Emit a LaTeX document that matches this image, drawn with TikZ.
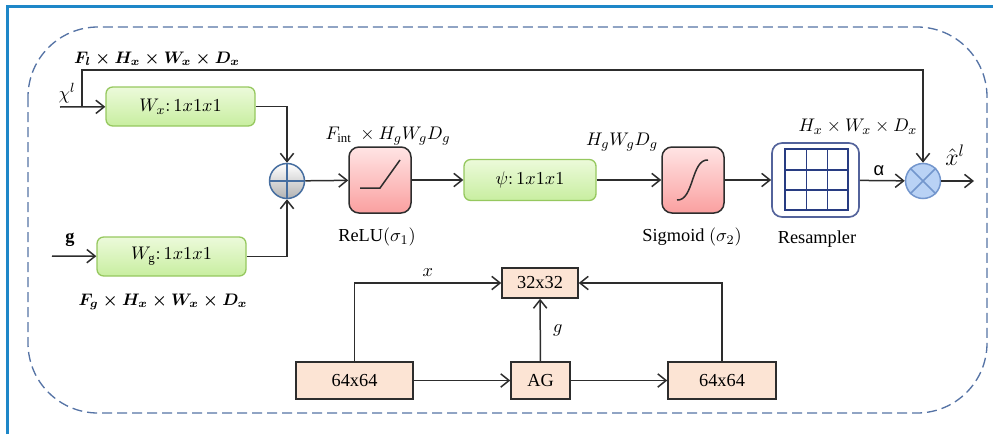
\documentclass[tikz,border=0pt]{standalone}
\usepackage{amsmath}
\usepackage{fontspec}
\setmainfont{Liberation Serif}
\newfontfamily\alphafont{Liberation Sans}
\usetikzlibrary{arrows.meta}

\definecolor{framblue}{RGB}{30,135,200}
\definecolor{dashblue}{RGB}{85,115,165}
\definecolor{linegray}{RGB}{45,45,45}
\definecolor{greentop}{RGB}{236,250,218}
\definecolor{greenbot}{RGB}{200,238,160}
\definecolor{greenline}{RGB}{150,200,95}
\definecolor{pinktop}{RGB}{255,228,228}
\definecolor{pinkbot}{RGB}{250,160,160}
\definecolor{peach}{RGB}{252,228,212}
\definecolor{sumblue}{RGB}{70,110,160}
\definecolor{mulfill}{RGB}{185,210,245}
\definecolor{mulline}{RGB}{115,150,205}
\definecolor{gridblue}{RGB}{40,60,130}

\begin{document}
\begin{tikzpicture}[x=0.6pt, y=-0.6pt, font=\fontsize{11}{13}\selectfont,
    arr/.style={draw=linegray, line width=0.9pt, -{Straight Barb[length=5pt,width=8pt]}},
    conv/.style={draw=greenline, line width=0.8pt, rounded corners=4pt, top color=greentop,
                 bottom color=greenbot, minimum width=89.4pt, minimum height=23.4pt},
    act/.style={draw=linegray, line width=0.9pt, rounded corners=6pt, top color=pinktop,
                bottom color=pinkbot, minimum width=37.2pt, minimum height=39.6pt},
    fmap/.style={draw=linegray, line width=0.9pt, fill=peach, minimum height=22.2pt}]
  \useasboundingbox (0,0) rectangle (996,434);
  % frame and module outline
  \draw[framblue, line width=1.3pt] (7.5,434) -- (7.5,6.5) -- (993,6.5);
  \draw[dashblue, line width=0.8pt, dash pattern=on 6pt off 3pt, rounded corners=42pt]
        (28,27) rectangle (987,413);

  % attention gate
  \node[conv] (wx) at (180.5,106.5) {$W_x{:}\,1x1x1$};
  \node[conv] (wg) at (171.5,256.5) {$W_{\mathrm{g}}{:}\,1x1x1$};
  \node[circle, draw=sumblue, line width=0.9pt, top color=white, bottom color=black!30,
        minimum size=21pt, inner sep=0pt] (sum) at (287,181) {};
  \draw[sumblue, line width=0.9pt] (sum.north) -- (sum.south) (sum.west) -- (sum.east);
  \node[act] (relu) at (380,180) {};
  \draw[linegray, line width=0.9pt] (360,188) -- (380,188) -- (400,160);
  \node[conv, minimum width=79.2pt, minimum height=24.6pt] (psi) at (530,180) {$\psi{:}\,1x1x1$};
  \node[act] (sig) at (693,180) {};
  \draw[linegray, line width=0.9pt] (677,200) .. controls (694,201) and (691,159) .. (708,160);
  \node[draw=gridblue!80, line width=1pt, rounded corners=6pt, fill=white,
        minimum width=52.2pt, minimum height=44.4pt] (res) at (815.5,180) {};
  \draw[gridblue, line width=0.9pt] (785,149) rectangle (848,210);
  \foreach \gx in {806.5,827.5}
    \draw[gridblue, line width=0.9pt] (\gx,149) -- (\gx,210);
  \foreach \gy in {170,190}
    \draw[gridblue, line width=0.9pt] (785,\gy) -- (848,\gy);
  \node[circle, draw=mulline, line width=0.9pt, fill=mulfill, minimum size=21pt,
        inner sep=0pt] (mul) at (923,181) {};
  \draw[mulline, line width=0.9pt] (mul.north west) -- (mul.south east)
                                   (mul.north east) -- (mul.south west);

  \coordinate (xin) at (60,107);
  \coordinate (br) at (82,107);
  \coordinate (tp) at (82,70);
  \coordinate (gin) at (52,256);
  \coordinate (out) at (974,181);

  \draw[arr] (xin) -- (wx);
  \draw[arr] (br) -- (tp) -| (mul.north);
  \draw[arr] (gin) -- (wg);
  \draw[arr] (wx.east) -| (sum.north);
  \draw[arr] (wg.east) -| (sum.south);
  \draw[arr] (sum) -- (relu);
  \draw[arr] (relu) -- (psi);
  \draw[arr] (psi) -- (sig);
  \draw[arr] (sig) -- (res);
  \draw[arr] (res) -- (mul);
  \draw[arr] (mul) -- (out);

  \node (xl) at (67,93) {$\chi^{l}$};
  \node (gl) at (70,240) {$\mathbf{g}$};
  \node[font=\fontsize{10}{12}\selectfont] (fl) at (157,59)
       {$\boldsymbol{F_l \times H_x \times W_x \times D_x}$};
  \node[font=\fontsize{10}{12}\selectfont] (fg) at (163,302)
       {$\boldsymbol{F_g \times H_x \times W_x \times D_x}$};
  \node (fint) at (388,136) {$F_{\mathrm{int}}\ \times H_gW_gD_g$};
  \node (relul) at (377,237) {ReLU$(\sigma_1)$};
  \node (hwd) at (622,142) {$H_gW_gD_g$};
  \node (sigl) at (692,237) {Sigmoid $(\sigma_2)$};
  \node (hxwx) at (858,127) {$H_x \times W_x \times D_x$};
  \node (resl) at (817,239) {Resampler};
  \node (al) at (879,171) {\alphafont α};
  \node[inner sep=0pt] (xh) at (955,155) {\Large$\hat{x}^{l}$};

  % small network
  \node[fmap, minimum width=70.2pt] (l64) at (354.5,380.5) {64x64};
  \node[fmap, minimum width=35.4pt] (ag) at (540.5,380.5) {AG};
  \node[fmap, minimum width=64.8pt] (r64) at (722,380.5) {64x64};
  \node[fmap, minimum width=45.6pt, minimum height=18pt] (t32) at (540,283) {32x32};
  \draw[arr] (l64) -- (ag);
  \draw[arr] (ag) -- (r64);
  \draw[arr] (ag) -- (t32) node[midway, right=4pt] {$g$};
  \draw[arr] (l64.north) |- (t32.west) node[pos=0.75, above] {$x$};
  \draw[arr] (r64.north) |- (t32.east);
\end{tikzpicture}
\end{document}
